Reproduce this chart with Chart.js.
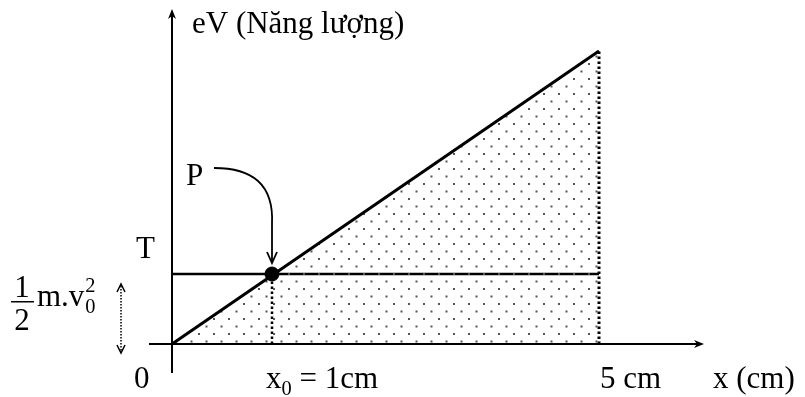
<!DOCTYPE html>
<html>
<head>
<meta charset="utf-8">
<script src="https://cdn.jsdelivr.net/npm/chart.js@4/dist/chart.umd.min.js"></script>
<style>
  html, body { margin: 0; padding: 0; background: #fff; }
  #wrap { width: 805px; height: 397px; }
</style>
</head>
<body>
<div id="wrap"><canvas id="energyChart"></canvas></div>
<script>
// schematic positions (x in diagram units, energy in diagram units)
const xPositions = [0, 1, 4.27];          // origin, x0, 5 cm mark
const lineEnergy = [0, 0.70, 2.93];       // eV along the straight line
const levelT = 0.70;                      // kinetic energy level T
const xTickLabels = ['0', 'x0 = 1cm', '5 cm'];
const xAxisTitle = 'x (cm)';
const yAxisTitle = 'eV (Năng lượng)';
const pointLabel = 'P';
const levelLabel = 'T';

const FONT = '"Liberation Serif", "Times New Roman", serif';
const FS = 31;

// staggered stipple fill
function makeStipple() {
  const c = document.createElement('canvas');
  c.width = 15; c.height = 15;
  const g = c.getContext('2d');
  g.fillStyle = '#555';
  g.fillRect(3, 3, 2, 2);
  g.fillRect(10.5, 10.5, 2, 2);
  return document.createElement('canvas').getContext('2d').createPattern(c, 'repeat');
}

function richText(ctx, parts, x, y, size) {
  let cx = x;
  parts.forEach(p => {
    const s = p.sub || p.sup ? size * 0.66 : size;
    ctx.font = s + 'px ' + FONT;
    const dy = p.sub ? size * 0.22 : (p.sup ? -size * 0.45 : 0);
    ctx.fillText(p.t, p.x !== undefined ? p.x : cx, y + dy);
    if (p.x === undefined) cx += ctx.measureText(p.t).width;
  });
  return cx;
}

const diagramPlugin = {
  id: 'diagram',
  afterDatasetsDraw(chart) {
    const ctx = chart.ctx;
    const xs = chart.scales.x, ys = chart.scales.y, a = chart.chartArea;
    const ox = xs.getPixelForValue(0), oy = ys.getPixelForValue(0);
    ctx.save();
    ctx.strokeStyle = '#000';
    ctx.fillStyle = '#000';
    ctx.lineWidth = 2;

    // axes
    ctx.beginPath();
    ctx.moveTo(ox, a.bottom); ctx.lineTo(ox, a.top + 2);
    ctx.moveTo(a.left, oy); ctx.lineTo(a.right - 2, oy);
    ctx.stroke();
    ctx.beginPath();
    ctx.moveTo(ox, a.top); ctx.lineTo(ox - 4, a.top + 10); ctx.lineTo(ox, a.top + 7); ctx.lineTo(ox + 4, a.top + 10);
    ctx.closePath(); ctx.fill();
    ctx.beginPath();
    ctx.moveTo(a.right, oy); ctx.lineTo(a.right - 10, oy - 4); ctx.lineTo(a.right - 7, oy); ctx.lineTo(a.right - 10, oy + 4);
    ctx.closePath(); ctx.fill();

    // tick labels on x
    const base = oy + 44;
    ctx.textBaseline = 'alphabetic';
    ctx.textAlign = 'left';
    ctx.font = FS + 'px ' + FONT;
    ctx.fillText(xTickLabels[0], ox - 38, base);
    const x0 = xs.getPixelForValue(xPositions[1]);
    const lab = xTickLabels[1].split(' ');
    richText(ctx, [{ t: 'x' }, { t: '0', sub: true }, { t: ' ' + lab.slice(1).join(' ') }], x0 - 6, base, FS);
    ctx.font = FS + 'px ' + FONT;
    ctx.fillText(xTickLabels[2], xs.getPixelForValue(xPositions[2]) + 1, base);
    ctx.fillText(xAxisTitle, a.right + 9, base);

    // y title
    ctx.fillText(yAxisTitle, ox + 20, a.top + 24);

    // T label
    const ty = ys.getPixelForValue(levelT);
    ctx.fillText(levelLabel, ox - 36, ty - 16);

    // 1/2 m.v0^2 label
    ctx.textAlign = 'center';
    ctx.fillText('1', 22, ty + 23);
    ctx.fillRect(11, ty + 27, 23, 1.5);
    ctx.fillText('2', 22, ty + 56);
    ctx.textAlign = 'left';
    const end = richText(ctx, [{ t: 'm.v' }], 37, ty + 32, FS);
    richText(ctx, [{ t: '0', sub: true, x: end + 1 }, { t: '2', sup: true, x: end + 1 }], end, ty + 32, FS);

    // dotted double arrow
    const ax = ox - 51;
    ctx.lineWidth = 1.5;
    ctx.setLineDash([1.5, 1.5]);
    ctx.beginPath();
    ctx.moveTo(ax, ty + 12); ctx.lineTo(ax, oy + 7);
    ctx.stroke();
    ctx.setLineDash([]);
    ctx.beginPath();
    ctx.moveTo(ax - 4, ty + 18); ctx.lineTo(ax, ty + 10); ctx.lineTo(ax + 4, ty + 18);
    ctx.moveTo(ax - 4, oy + 1); ctx.lineTo(ax, oy + 9); ctx.lineTo(ax + 4, oy + 1);
    ctx.stroke();

    // P label and curved arrow
    const px = xs.getPixelForValue(xPositions[1]);
    ctx.font = FS + 'px ' + FONT;
    ctx.fillText(pointLabel, px - 86, ty - 89);
    ctx.lineWidth = 1.8;
    ctx.beginPath();
    ctx.moveTo(px - 58, ty - 106);
    ctx.bezierCurveTo(px - 20, ty - 106, px + 2, ty - 90, px, ty - 50);
    ctx.lineTo(px, ty - 12);
    ctx.stroke();
    ctx.beginPath();
    ctx.moveTo(px - 5, ty - 22); ctx.lineTo(px, ty - 11); ctx.lineTo(px + 5, ty - 22);
    ctx.stroke();
    ctx.restore();
  }
};

new Chart(document.getElementById('energyChart'), {
  type: 'scatter',
  data: {
    datasets: [
      {
        label: 'eV',
        data: [0, 2].map(i => ({ x: xPositions[i], y: lineEnergy[i] })),
        showLine: true,
        borderColor: '#000',
        borderWidth: 3,
        pointRadius: 0,
        fill: 'origin',
        backgroundColor: makeStipple()
      },
      {
        label: 'T',
        data: [{ x: xPositions[0], y: levelT }, { x: xPositions[2], y: levelT }],
        showLine: true,
        borderColor: '#000',
        borderWidth: 2.5,
        pointRadius: 0
      },
      {
        label: 'x0 drop',
        data: [{ x: xPositions[1], y: 0 }, { x: xPositions[1], y: lineEnergy[1] }],
        showLine: true,
        borderColor: '#000',
        borderWidth: 2.5,
        borderDash: [2.5, 2.5],
        pointRadius: 0
      },
      {
        label: '5cm drop',
        data: [{ x: xPositions[2], y: 0 }, { x: xPositions[2], y: lineEnergy[2] }],
        showLine: true,
        borderColor: '#000',
        borderWidth: 3,
        borderDash: [2.5, 2.5],
        pointRadius: 0
      },
      {
        label: 'P',
        data: [{ x: xPositions[1], y: lineEnergy[1] }],
        pointRadius: 7,
        pointBackgroundColor: '#000',
        pointBorderColor: '#000'
      }
    ]
  },
  options: {
    responsive: true,
    maintainAspectRatio: false,
    animation: false,
    layout: { padding: { left: 149, right: 101, top: 9, bottom: 24 } },
    plugins: { legend: { display: false }, tooltip: { enabled: false } },
    scales: {
      x: { type: 'linear', display: false, min: -0.23, max: 5.32 },
      y: { type: 'linear', display: false, min: -0.29, max: 3.35 }
    }
  },
  plugins: [diagramPlugin]
});
</script>
</body>
</html>
